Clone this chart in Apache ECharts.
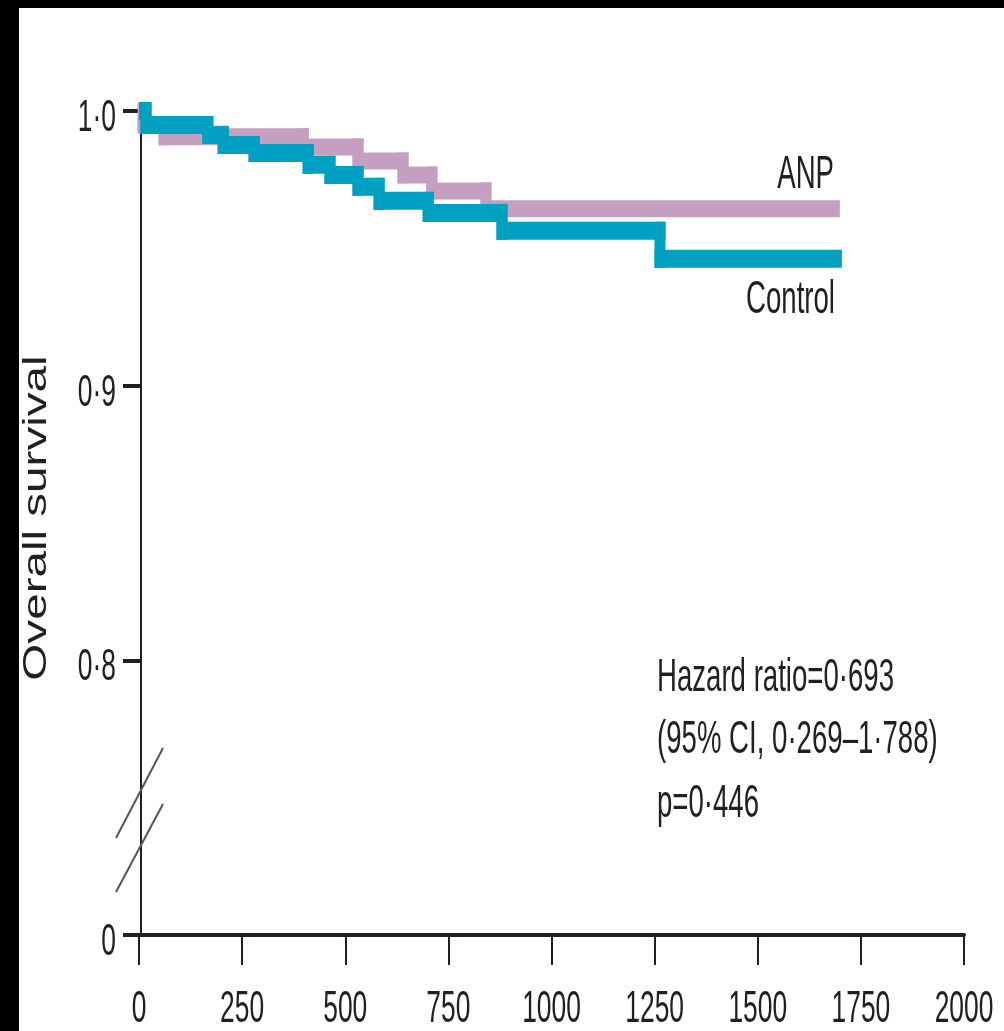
<!DOCTYPE html>
<html>
<head>
<meta charset="utf-8">
<style>
  html, body { margin: 0; padding: 0; background: #ffffff; overflow: hidden; }
  #chart { width: 1004px; height: 1031px; }
</style>
<script src="https://cdn.jsdelivr.net/npm/echarts@6/dist/echarts.min.js"></script>
</head>
<body>
<div id="chart"></div>
<script>
// Kaplan-Meier overall survival, ANP vs Control (days on the x axis)
const FACE = '"Liberation Sans", Arial, sans-serif';
const INK = '#231F20';
const SQUEEZE = 0.6;   // horizontal squeeze that gives the condensed lettering

// x axis ticks (days)
const xTickValues = [0, 250, 500, 750, 1000, 1250, 1500, 1750, 2000];
const xTickLabels = ['0', '250', '500', '750', '1000', '1250', '1500', '1750', '2000'];

// y axis ticks: the lowest tick stands for 0 across the axis break
const yTickValues = [0.7, 0.8, 0.9, 1.0];
const yTickLabels = ['0', '0·8', '0·9', '1·0'];

// ANP group: day of each step and survival after it
const anpDays     = [0, 10, 61, 398, 531, 640, 710, 841, 1699];
const anpSurvival = [1.0, 0.9949, 0.9906, 0.9869, 0.9818, 0.9767, 0.9709, 0.9644, 0.9644];

// Control group
const controlDays     = [0, 17, 167, 204, 279, 410, 463, 531, 582, 701, 880, 1263, 1704];
const controlSurvival = [1.0, 0.9949, 0.9913, 0.9876, 0.9847, 0.9804, 0.9767, 0.9724, 0.9673, 0.9629, 0.9564, 0.9462, 0.9462];

const statLines = ['Hazard ratio=0·693', '(95% CI, 0·269–1·788)', 'p=0·446'];

function pairs(xs, ys) { return xs.map((x, i) => [x, ys[i]]); }

// Step curve drawn as flat bands (thick) joined by narrower drops
function stepRenderer(days, surv, thick, dropWidth, color) {
  return function (params, api) {
    const i = params.dataIndex;
    const n = days.length;
    if (i >= n - 1) return null;
    const a = api.coord([days[i], surv[i]]);
    const b = api.coord([days[i + 1], surv[i]]);
    const c = api.coord([days[i + 1], surv[i + 1]]);
    const left = i === 0 ? a[0] : a[0] - dropWidth / 2;
    const right = i === n - 2 ? b[0] : b[0] + dropWidth / 2;
    const children = [{
      type: 'rect',
      shape: { x: left, y: a[1] - thick / 2, width: right - left, height: thick },
      style: { fill: color }
    }];
    if (i < n - 2 && c[1] !== b[1]) {
      children.push({
        type: 'rect',
        shape: { x: b[0] - dropWidth / 2, y: b[1] - thick / 2, width: dropWidth, height: c[1] - b[1] + thick },
        style: { fill: color }
      });
    }
    return { type: 'group', children: children };
  };
}

const Y_MIN = yTickValues[0];
const chart = echarts.init(document.getElementById('chart'));
chart.setOption({
  animation: false,
  backgroundColor: '#ffffff',
  grid: { left: 139, right: 40, top: 111, bottom: 96, outerBoundsMode: 'none' },
  xAxis: {
    type: 'value', min: 0, max: 2000, interval: 250,
    axisLine: { show: true, lineStyle: { color: INK, width: 4 } },
    axisTick: { show: true, length: 30, lineStyle: { color: INK, width: 2 } },
    axisLabel: { show: false },
    splitLine: { show: false }
  },
  yAxis: {
    type: 'value', min: Y_MIN, max: 1.0, interval: 0.1, offset: -2,
    axisLine: { show: true, lineStyle: { color: INK, width: 2 } },
    axisTick: { show: true, length: 18, lineStyle: { color: INK, width: 4 } },
    axisLabel: { show: false },
    splitLine: { show: false }
  },
  series: [
    {
      name: 'ANP', type: 'custom', z: 2,
      data: pairs(anpDays, anpSurvival),
      encode: { x: 0, y: 1 },
      renderItem: stepRenderer(anpDays, anpSurvival, 17, 11, '#C59FC0')
    },
    {
      name: 'Control', type: 'custom', z: 3,
      data: pairs(controlDays, controlSurvival),
      encode: { x: 0, y: 1 },
      renderItem: stepRenderer(controlDays, controlSurvival, 18, 11, '#00A0C2')
    }
  ]
});

// condensed text helper
function condensed(text, x, y, size, align, extra) {
  return Object.assign({
    type: 'text', x: x, y: y, scaleX: SQUEEZE, z: 10,
    style: { text: text, font: size + 'px ' + FACE, fill: INK, align: align, verticalAlign: 'middle' }
  }, extra || {});
}

const elements = [
  // frame edges
  { type: 'rect', left: 0, top: 0, shape: { width: 19, height: 1031 }, style: { fill: '#000' }, z: 10 },
  { type: 'rect', left: 0, top: 0, shape: { width: 1004, height: 8 }, style: { fill: '#000' }, z: 10 },
  // axis break marks
  { type: 'line', shape: { x1: 116, y1: 838, x2: 163, y2: 748 }, style: { stroke: '#555', lineWidth: 2 }, z: 10 },
  { type: 'line', shape: { x1: 116, y1: 892, x2: 163, y2: 804 }, style: { stroke: '#555', lineWidth: 2 }, z: 10 }
];

// tick labels placed from the axis scales
xTickValues.forEach((v, i) => {
  const p = chart.convertToPixel({ gridIndex: 0 }, [v, Y_MIN]);
  elements.push(condensed(xTickLabels[i], p[0], p[1] + 75, 44, 'center'));
});
yTickValues.forEach((v, i) => {
  const p = chart.convertToPixel({ gridIndex: 0 }, [0, v]);
  elements.push(condensed(yTickLabels[i], p[0] - 23, p[1] + 8, 44, 'right'));
});

// axis title, rotated and drawn along the axis length
const yTop = chart.convertToPixel({ gridIndex: 0 }, [0, 1.0])[1];
const yBottom = chart.convertToPixel({ gridIndex: 0 }, [0, Y_MIN])[1];
elements.push({
  type: 'text', x: 37, y: (yTop + yBottom) / 2 - 5, rotation: Math.PI / 2, scaleX: 1.4, z: 10,
  style: { text: 'Overall survival', font: '34px ' + FACE, fill: INK, align: 'center', verticalAlign: 'middle' }
});

// curve labels
elements.push(condensed('ANP', 834, 175, 46, 'right'));
elements.push(condensed('Control', 835, 300, 46, 'right'));

// statistics block
elements.push(condensed(statLines[0], 657, 678, 46, 'left'));
elements.push(condensed(statLines[1], 657, 740, 46, 'left'));
elements.push(condensed(statLines[2], 657, 804, 46, 'left'));

chart.setOption({ graphic: { elements: elements } });
</script>
</body>
</html>
